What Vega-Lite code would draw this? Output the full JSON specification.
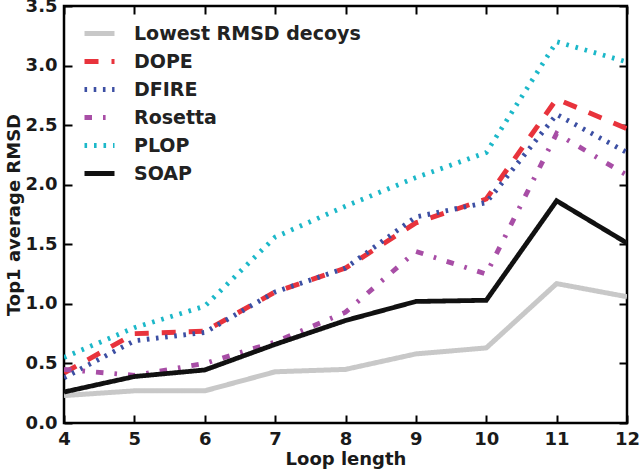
{
  "$schema": "https://vega.github.io/schema/vega-lite/v6.json",
  "width": 563,
  "height": 417,
  "autosize": {"type": "none"},
  "padding": {"left": 64, "top": 6, "right": 14, "bottom": 48},
  "config": {
    "font": "DejaVu Sans",
    "view": {"stroke": "black", "strokeWidth": 2.5},
    "axis": {
      "grid": false,
      "domain": false,
      "labelFont": "DejaVu Sans",
      "labelFontWeight": "bold",
      "labelFontSize": 18,
      "labelColor": "#1a1a1a",
      "titleFont": "DejaVu Sans",
      "titleFontWeight": "bold",
      "titleFontSize": 18,
      "titleColor": "#1a1a1a"
    },
    "legend": {
      "labelFont": "DejaVu Sans",
      "labelFontWeight": "bold",
      "labelFontSize": 19,
      "labelLimit": 0
    }
  },
  "data": {
    "values": [
      {"len": 4, "method": "Lowest RMSD decoys", "rmsd": 0.23},
      {"len": 5, "method": "Lowest RMSD decoys", "rmsd": 0.27},
      {"len": 6, "method": "Lowest RMSD decoys", "rmsd": 0.27},
      {"len": 7, "method": "Lowest RMSD decoys", "rmsd": 0.43},
      {"len": 8, "method": "Lowest RMSD decoys", "rmsd": 0.45},
      {"len": 9, "method": "Lowest RMSD decoys", "rmsd": 0.58},
      {"len": 10, "method": "Lowest RMSD decoys", "rmsd": 0.63},
      {"len": 11, "method": "Lowest RMSD decoys", "rmsd": 1.17},
      {"len": 12, "method": "Lowest RMSD decoys", "rmsd": 1.06},
      {"len": 4, "method": "DOPE", "rmsd": 0.42},
      {"len": 5, "method": "DOPE", "rmsd": 0.75},
      {"len": 6, "method": "DOPE", "rmsd": 0.77},
      {"len": 7, "method": "DOPE", "rmsd": 1.1},
      {"len": 8, "method": "DOPE", "rmsd": 1.3},
      {"len": 9, "method": "DOPE", "rmsd": 1.68},
      {"len": 10, "method": "DOPE", "rmsd": 1.88},
      {"len": 11, "method": "DOPE", "rmsd": 2.72},
      {"len": 12, "method": "DOPE", "rmsd": 2.47},
      {"len": 4, "method": "DFIRE", "rmsd": 0.38},
      {"len": 5, "method": "DFIRE", "rmsd": 0.69},
      {"len": 6, "method": "DFIRE", "rmsd": 0.76},
      {"len": 7, "method": "DFIRE", "rmsd": 1.1},
      {"len": 8, "method": "DFIRE", "rmsd": 1.3},
      {"len": 9, "method": "DFIRE", "rmsd": 1.73},
      {"len": 10, "method": "DFIRE", "rmsd": 1.85},
      {"len": 11, "method": "DFIRE", "rmsd": 2.59},
      {"len": 12, "method": "DFIRE", "rmsd": 2.27},
      {"len": 4, "method": "Rosetta", "rmsd": 0.45},
      {"len": 5, "method": "Rosetta", "rmsd": 0.4},
      {"len": 6, "method": "Rosetta", "rmsd": 0.5},
      {"len": 7, "method": "Rosetta", "rmsd": 0.68},
      {"len": 8, "method": "Rosetta", "rmsd": 0.93},
      {"len": 9, "method": "Rosetta", "rmsd": 1.44},
      {"len": 10, "method": "Rosetta", "rmsd": 1.25},
      {"len": 11, "method": "Rosetta", "rmsd": 2.43},
      {"len": 12, "method": "Rosetta", "rmsd": 2.08},
      {"len": 4, "method": "PLOP", "rmsd": 0.55},
      {"len": 5, "method": "PLOP", "rmsd": 0.8},
      {"len": 6, "method": "PLOP", "rmsd": 0.98},
      {"len": 7, "method": "PLOP", "rmsd": 1.56},
      {"len": 8, "method": "PLOP", "rmsd": 1.82},
      {"len": 9, "method": "PLOP", "rmsd": 2.06},
      {"len": 10, "method": "PLOP", "rmsd": 2.27},
      {"len": 11, "method": "PLOP", "rmsd": 3.2},
      {"len": 12, "method": "PLOP", "rmsd": 3.03},
      {"len": 4, "method": "SOAP", "rmsd": 0.26},
      {"len": 5, "method": "SOAP", "rmsd": 0.39},
      {"len": 6, "method": "SOAP", "rmsd": 0.445},
      {"len": 7, "method": "SOAP", "rmsd": 0.66},
      {"len": 8, "method": "SOAP", "rmsd": 0.86},
      {"len": 9, "method": "SOAP", "rmsd": 1.02},
      {"len": 10, "method": "SOAP", "rmsd": 1.03},
      {"len": 11, "method": "SOAP", "rmsd": 1.865},
      {"len": 12, "method": "SOAP", "rmsd": 1.51}
    ]
  },
  "layer": [
    {
      "mark": {"type": "line", "clip": true},
      "encoding": {
        "x": {
          "field": "len", "type": "quantitative",
          "scale": {"domain": [4, 12], "nice": false, "zero": false},
          "axis": {"orient": "bottom", "title": "Loop length", "values": [4,5,6,7,8,9,10,11,12], "offset": -8, "tickSize": 8, "tickColor": "black", "tickWidth": 2, "labelPadding": 7, "titlePadding": 2, "labelFlush": false}
        },
        "y": {
          "field": "rmsd", "type": "quantitative",
          "scale": {"domain": [0, 3.5], "nice": false},
          "axis": {"orient": "left", "title": "Top1 average RMSD", "values": [0,0.5,1,1.5,2,2.5,3,3.5], "format": ".1f", "offset": -8, "tickSize": 8, "tickColor": "black", "tickWidth": 2, "labelPadding": 7, "titlePadding": 2, "labelFlush": false}
        },
        "color": {
          "field": "method", "type": "nominal",
          "scale": {
            "domain": ["Lowest RMSD decoys", "DOPE", "DFIRE", "Rosetta", "PLOP", "SOAP"],
            "range": ["#c8c8c8", "#e8333c", "#3c4fa3", "#a84ea6", "#1cb8c9", "#111111"]
          },
          "legend": {
            "title": null,
            "orient": "none",
            "legendX": 18,
            "legendY": 10,
            "symbolType": "stroke",
            "symbolSize": 900,
            "labelFont": "DejaVu Sans",
            "labelFontWeight": "bold",
            "labelFontSize": 19,
            "labelLimit": 0,
            "labelColor": "#222222",
            "labelOffset": 17,
            "rowPadding": 0
          }
        },
        "strokeDash": {
          "field": "method", "type": "nominal",
          "scale": {
            "domain": ["Lowest RMSD decoys", "DOPE", "DFIRE", "Rosetta", "PLOP", "SOAP"],
            "range": [[1, 0], [14, 13], [2.6, 6.6], [7.5, 11, 2.6, 11], [2.6, 6.9], [1, 0]]
          },
          "legend": null
        },
        "strokeWidth": {
          "field": "method", "type": "nominal",
          "scale": {
            "domain": ["Lowest RMSD decoys", "DOPE", "DFIRE", "Rosetta", "PLOP", "SOAP"],
            "range": [5, 4.8, 3.2, 4.5, 3.2, 4]
          },
          "legend": null
        }
      }
    },
    {
      "mark": {"type": "point", "opacity": 0},
      "encoding": {
        "x": {
          "field": "len", "type": "quantitative",
          "axis": {"orient": "top", "title": null, "labels": false, "offset": -8, "tickSize": 8, "tickColor": "black", "tickWidth": 2, "values": [4,5,6,7,8,9,10,11,12]}
        },
        "y": {
          "field": "rmsd", "type": "quantitative",
          "axis": {"orient": "right", "title": null, "labels": false, "offset": -8, "tickSize": 8, "tickColor": "black", "tickWidth": 2, "values": [0,0.5,1,1.5,2,2.5,3,3.5]}
        }
      }
    }
  ],
  "resolve": {"axis": {"x": "independent", "y": "independent"}}
}
